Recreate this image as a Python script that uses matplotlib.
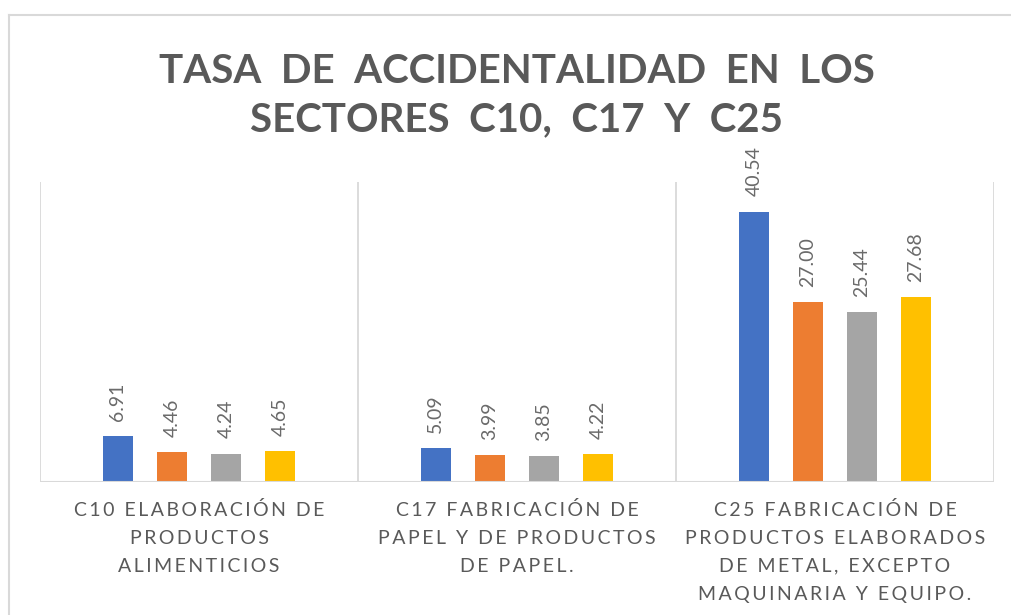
import matplotlib
matplotlib.use("Agg")
import matplotlib.pyplot as plt
import matplotlib.transforms as mtransforms
import numpy as np
from matplotlib.lines import Line2D

plt.rcParams['font.family'] = ['Lato', 'DejaVu Sans']

categories = [
    "C10 ELABORACIÓN DE\nPRODUCTOS\nALIMENTICIOS",
    "C17 FABRICACIÓN DE\nPAPEL Y DE PRODUCTOS\nDE PAPEL.",
    "C25 FABRICACIÓN DE\nPRODUCTOS ELABORADOS\nDE METAL, EXCEPTO\nMAQUINARIA Y EQUIPO.",
]
serie_1 = [6.91, 5.09, 40.54]
serie_2 = [4.46, 3.99, 27.00]
serie_3 = [4.24, 3.85, 25.44]
serie_4 = [4.65, 4.22, 27.68]
series = [serie_1, serie_2, serie_3, serie_4]
colors = ["#4472C4", "#ED7D31", "#A5A5A5", "#FFC000"]
title = "TASA  DE  ACCIDENTALIDAD  EN  LOS\nSECTORES  C10,  C17  Y  C25"

def spaced(s, sp="\u2009"):
    return "\n".join(sp.join(list(line)) for line in s.split("\n"))

W, H = 1011, 615
fig = plt.figure(figsize=(W/100, H/100), dpi=100)
fig.patch.set_facecolor("white")

# outer chart border
fig.add_artist(Line2D([9/W, 9/W], [0, 1-15/H], color="#D9D9D9", lw=1.5, transform=fig.transFigure))
fig.add_artist(Line2D([9/W, 1], [1-15/H, 1-15/H], color="#D9D9D9", lw=1.5, transform=fig.transFigure))

ax = fig.add_axes([40/W, 1-482/H, (994-40)/W, (482-182)/H])
x = np.arange(len(categories))
step = 0.17
bw = 0.092
for i, (vals, c) in enumerate(zip(series, colors)):
    pos = x + (i - 1.5) * step
    ax.bar(pos, vals, width=bw, color=c, zorder=3)
    for p, v in zip(pos, vals):
        ax.annotate(f"{v:.2f}", (p, v), xytext=(0, 11), textcoords="offset points",
                    rotation=90, ha="center", va="bottom", fontsize=14,
                    color="#6A6A6A")

ax.set_xlim(-0.5, 2.5)
ax.set_ylim(0, 45)
for s in ax.spines.values():
    s.set_visible(False)
ax.set_yticks([])
ax.set_xticks([])
for xv in [-0.5, 0.5, 1.5, 2.5]:
    ax.axvline(xv, color="#D9D9D9", lw=1.3, zorder=1)
ax.axhline(0, color="#D9D9D9", lw=1.5, zorder=4)

trans = mtransforms.blended_transform_factory(ax.transData, fig.transFigure)
for xi, lab in zip(x, categories):
    ax.text(xi, 1-501/H, spaced(lab), transform=trans,
            ha="center", va="top", fontsize=14,
            color="#595959", linespacing=1.78)

fig.text(517/W, 1-96/H, title, ha="center", va="center", fontsize=29,
         fontweight="bold", color="#595959", linespacing=1.38)

fig.savefig("out.png", dpi=100)
